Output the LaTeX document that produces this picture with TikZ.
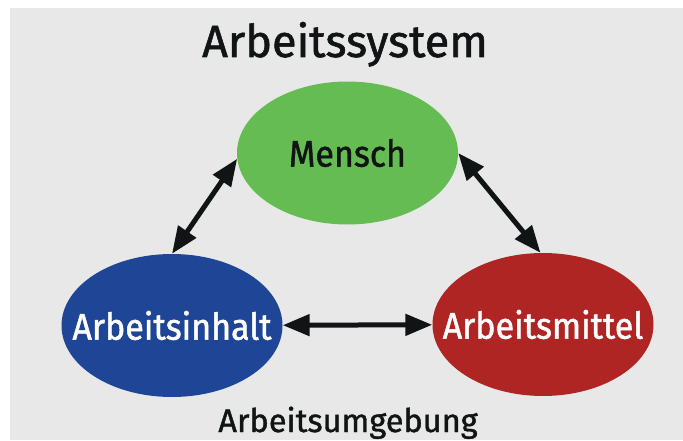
\documentclass[tikz,border=0pt]{standalone}
\usepackage{fontspec}
\setmainfont[FakeBold=1.2]{Fira Sans}
\newfontfamily\labelfont[FakeStretch=0.92,FakeBold=1.2]{Fira Sans}
\usetikzlibrary{shapes.geometric,arrows.meta}
\definecolor{bggray}{HTML}{E8E8E8}
\definecolor{mgreen}{HTML}{64BC52}
\definecolor{mblue}{HTML}{1F4696}
\definecolor{mred}{HTML}{AE2524}
\definecolor{ink}{HTML}{111414}
\tikzset{
  blob/.style={ellipse, minimum width=221pt, minimum height=143pt, inner sep=0pt},
  blobtext/.style={font=\labelfont\fontsize{37}{37}\selectfont},
  arr/.style={draw=ink, line width=5pt, {Triangle[length=27pt,width=21pt]}-{Triangle[length=27pt,width=21pt]}},
}
\begin{document}
\begin{tikzpicture}[x=1pt,y=1pt]
\useasboundingbox (0,0) rectangle (683,440);
\fill[bggray] (10,0) rectangle (683,432);
\node[anchor=base, text=ink, font=\fontsize{45}{45}\selectfont] (title) at (345,383) {Arbeitssystem};
\node[blob, fill=mgreen, label={[blobtext, text=ink]center:Mensch}] (mensch) at (347.5,287) {};
\node[blob, fill=mblue, label={[blobtext, text=white]center:Arbeitsinhalt}] (inhalt) at (172,114.5) {};
\node[blob, fill=mred, label={[blobtext, text=white]center:Arbeitsmittel}] (mittel) at (543,115.5) {};
\node[anchor=base, text=ink, font=\fontsize{32.5}{32.5}\selectfont] (umgebung) at (348,8) {Arbeitsumgebung};
\draw[arr] (inhalt) -- (mittel);
\draw[arr] (mensch.183.6) -- (inhalt.north);
\draw[arr] (mensch.east) -- (mittel.92);
\end{tikzpicture}
\end{document}
